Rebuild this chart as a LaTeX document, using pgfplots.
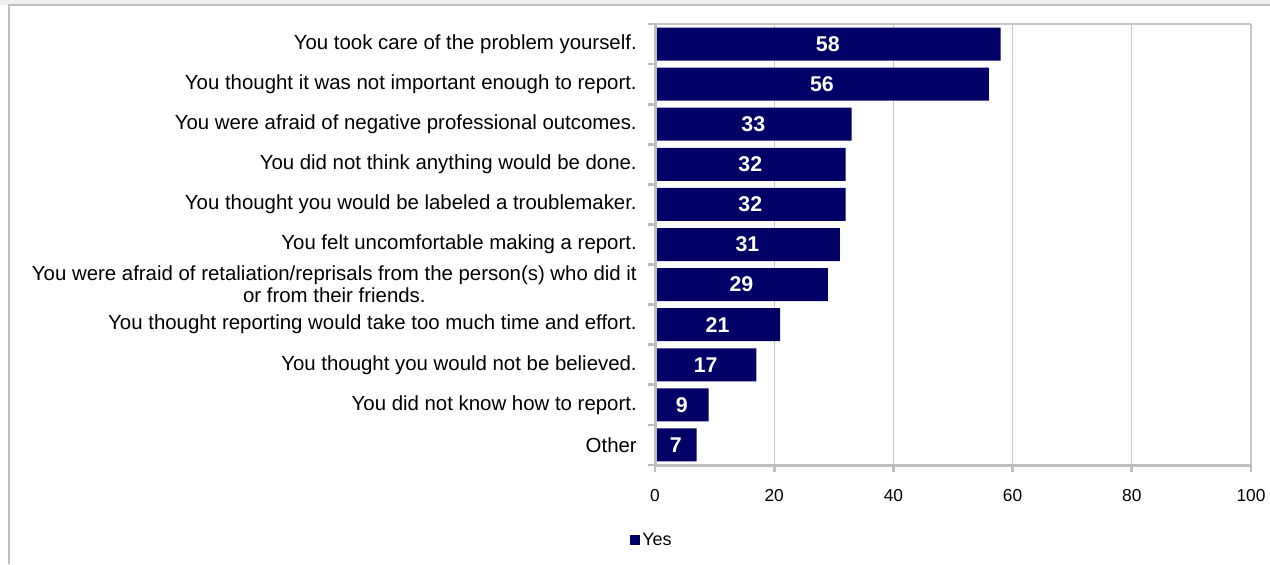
\documentclass[border=0pt]{standalone}
\usepackage{pgfplots}
\pgfplotsset{compat=1.18}
\usepackage{fontspec}
\setmainfont{Liberation Sans}
\definecolor{barnavy}{HTML}{000066}
\definecolor{gridgray}{HTML}{C8C8C8}
\definecolor{axisgray}{HTML}{BEBEBE}
\begin{document}
\begin{tikzpicture}[x=0.75pt,y=0.75pt]
\useasboundingbox (0,0) rectangle (1270,564);
\fill[gray!12] (0,559) rectangle (1270,564);
\draw[gray!50, line width=2pt] (9,0) -- (9,559) -- (1270,559);
\begin{axis}[
  at={(491.25pt,74.25pt)}, anchor=south west,
  scale only axis, width=447pt, height=330.75pt,
  xmin=0, xmax=100, ymin=-0.5, ymax=10.5,
  y dir=reverse,
  xtick={0,20,40,60,80,100},
  ytick={0,1,2,3,4,5,6,7,8,9,10},
  yticklabels={
    You took care of the problem yourself.,
    You thought it was not important enough to report.,
    You were afraid of negative professional outcomes.,
    You did not think anything would be done.,
    You thought you would be labeled a troublemaker.,
    You felt uncomfortable making a report.,
    {You were afraid of retaliation/reprisals from the person(s) who did it\\or from their friends.},
    You thought reporting would take too much time and effort.,
    You thought you would not be believed.,
    You did not know how to report.,
    Other},
  minor ytick={-0.5,0.5,...,10.5},
  major y tick style={draw=none},
  minor tick length=5pt,
  major tick length=5pt,
  tick align=outside,
  xtick pos=bottom, ytick pos=left,
  tick style={axisgray, line width=2pt},
  xmajorgrids,
  grid style={gridgray, line width=1pt},
  axis line style={axisgray, line width=1.5pt},
  axis x line*=bottom, axis y line*=left,
  yticklabel style={font=\fontsize{15.3}{16.5}\selectfont, align=center, text=black, inner sep=0pt, xshift=-8.5pt},
  xticklabel style={font=\fontsize{13}{14}\selectfont, text=black, yshift=-10pt},
  /pgf/number format/assume math mode=true,
  legend style={at={(-0.005,-0.17)}, anchor=center, draw=none, fill=none,
    font=\fontsize{13.5}{14}\selectfont, legend columns=1},
  legend image code/.code={\fill[#1] (0pt,-3.75pt) rectangle (7.5pt,3.75pt);},
  clip=false,
]
\draw[gridgray, line width=1.5pt] (rel axis cs:0,1) -- (rel axis cs:1,1);
\addplot[xbar, bar width=24.75pt, bar shift=0pt, fill=barnavy, draw=none] table[x=v, y=i] {
i v
0 58
1 56
2 33
3 32
4 32
5 31
6 29
7 21
8 17
9 9
10 7
};
\addlegendentry{Yes}
\addplot[draw=none, mark=none, forget plot, nodes near coords,
  point meta=explicit symbolic,
  every node near coord/.append style={anchor=center, text=white, font=\bfseries\fontsize{16}{17}\selectfont}]
  table[x expr=\thisrow{v}/2, y=i, meta=v] {
i v
0 58
1 56
2 33
3 32
4 32
5 31
6 29
7 21
8 17
9 9
10 7
};
\draw[axisgray, line width=2.25pt] (rel axis cs:0,0) -- (rel axis cs:0,1);
\draw[axisgray, line width=2.25pt] (rel axis cs:0,0) -- (rel axis cs:1,0);
\end{axis}
\end{tikzpicture}
\end{document}
